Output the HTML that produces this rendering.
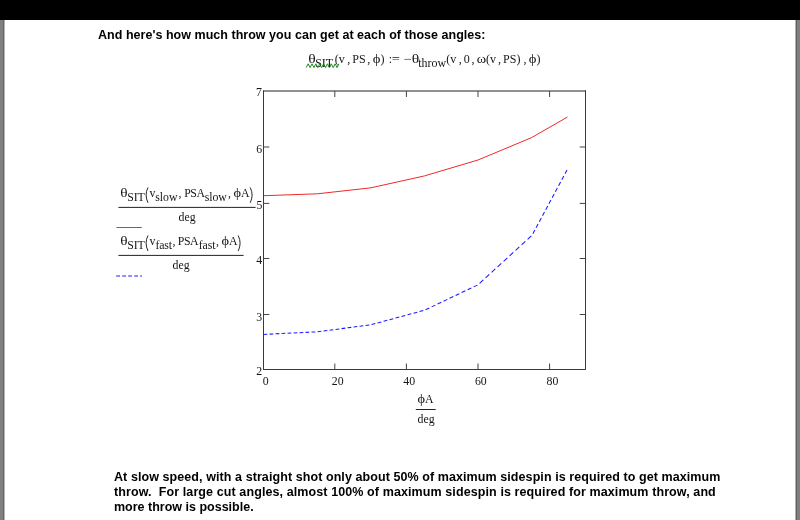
<!DOCTYPE html>
<html><head><meta charset="utf-8">
<style>
html,body{margin:0;padding:0;}
body{width:800px;height:520px;overflow:hidden;background:#fff;position:relative;font-family:"Liberation Sans",sans-serif;}
.abs{position:absolute;white-space:nowrap;}
.b{font-weight:bold;color:#000;font-size:12.5px;line-height:15px;}
#top{left:0;top:0;width:800px;height:20px;background:#000;}
#lg{left:0;top:20px;width:5px;height:500px;background:linear-gradient(to right,#808080 0,#808080 3px,#666 3px,#666 4px,#b4b4b4 4px,#b4b4b4 5px);}
#rg{left:795px;top:20px;width:5px;height:500px;background:linear-gradient(to right,#b4b4b4 0,#b4b4b4 1px,#606060 1px,#606060 2px,#808080 2px,#808080 5px);}
svg{position:absolute;left:0;top:0;will-change:transform;}
.b{will-change:transform;}
svg text{font-family:"Liberation Serif",serif;fill:#161616;}
.e{font-size:12.0px;}
.l{font-size:11.8px;}
.t{font-size:11.8px;}
</style></head><body>
<div class="abs" id="top"></div>
<div class="abs" id="lg"></div>
<div class="abs" id="rg"></div>
<div class="abs b" id="title" style="left:98px;top:27.5px;letter-spacing:0.03px;">And here's how much throw you can get at each of those angles:</div>
<div class="abs b" id="p1" style="left:113.5px;top:469.5px;letter-spacing:0.08px;">At slow speed, with a straight shot only about 50% of maximum sidespin is required to get maximum</div>
<div class="abs b" id="p2" style="left:113.5px;top:484.5px;letter-spacing:0.1px;">throw.&nbsp; For large cut angles, almost 100% of maximum sidespin is required for maximum throw, and</div>
<div class="abs b" id="p3" style="left:113.5px;top:499.5px;">more throw is possible.</div>
<svg width="800" height="520" viewBox="0 0 800 520">
<g class="e">
<text transform="translate(308.27 62.7) scale(1.3 1)">θ</text>
<text x="315.20" y="67.3">SIT</text>
<text x="334.87" y="62.7">(v</text>
<text x="347.34" y="62.7">,</text>
<text x="352.25" y="62.7">PS</text>
<text x="367.14" y="62.7">,</text>
<text transform="translate(372.71 62.7) scale(1.22 1)">ϕ</text>
<text x="380.41" y="62.7">)</text>
<text x="388.65" y="62.7">:</text>
<text transform="translate(391.68 62.7) scale(1.2 1)">=</text>
<text transform="translate(403.68 62.7) scale(1.2 1)">−</text>
<text transform="translate(411.80 62.7) scale(1.3 1)">θ</text>
<text x="418.18" y="67.3">throw</text>
<text x="446.37" y="62.7">(v</text>
<text x="458.84" y="62.7">,</text>
<text x="463.74" y="62.7">0</text>
<text x="471.44" y="62.7">,</text>
<text transform="translate(476.64 62.7) scale(1.19 1)">ω</text>
<text x="486.04" y="62.7">(v</text>
<text x="498.04" y="62.7">,</text>
<text x="503.05" y="62.7">PS)</text>
<text x="523.44" y="62.7">,</text>
<text transform="translate(528.81 62.7) scale(1.22 1)">ϕ</text>
<text x="536.51" y="62.7">)</text>
</g>
<path d="M306.2 67.6 L308.13 63.8 L310.06 67.6 L311.99 63.8 L313.92 67.6 L315.85 63.8 L317.78 67.6 L319.71 63.8 L321.64 67.6 L323.57 63.8 L325.50 67.6 L327.43 63.8 L329.36 67.6 L331.29 63.8 L333.22 67.6 L335.15 63.8 L337.08 67.6 L339.01 63.8" fill="none" stroke="#0b7d0b" stroke-width="0.9"/>
<g stroke="#333" stroke-width="1" fill="none">
<path d="M263.5 90.5V370 M585.5 90.5V370 M263 369.5H586" stroke="#3a3a3a"/>
<path d="M263 91H586" stroke="#222"/>
<path d="M334.8 91v6 M406.4 91v6 M478 91v6 M549.6 91v6" stroke="#444"/>
<path d="M334.8 369.5v-6 M406.4 369.5v-6 M478 369.5v-6 M549.6 369.5v-6" stroke="#444"/>
<path d="M263.5 147h5.8 M263.5 203.4h5.8 M263.5 258.5h5.8 M263.5 314.5h5.8" stroke="#444"/>
<path d="M585.5 147h-5.8 M585.5 203.4h-5.8 M585.5 258.5h-5.8 M585.5 314.5h-5.8" stroke="#444"/>
</g>
<polyline fill="none" stroke="#f02828" stroke-width="1" points="264,195.7 317.5,193.8 371,187.8 424.5,175.9 478,160 531.6,137.6 567.5,117"/>
<g fill="none" stroke="#1a1aff" stroke-width="1.05"><line x1="263.6" y1="334.4" x2="317.3" y2="331.8" stroke-dasharray="3.70 2.30" stroke-dashoffset="0.00"/>
<line x1="317.3" y1="331.8" x2="370.9" y2="324.8" stroke-dasharray="3.73 2.32" stroke-dashoffset="5.75"/>
<line x1="370.9" y1="324.8" x2="424.6" y2="310.2" stroke-dasharray="3.83 2.38" stroke-dashoffset="5.49"/>
<line x1="424.6" y1="310.2" x2="478" y2="284.8" stroke-dasharray="4.10 2.55" stroke-dashoffset="5.54"/>
<line x1="478" y1="284.8" x2="532" y2="235.3" stroke-dasharray="5.02 3.12" stroke-dashoffset="5.97"/>
<line x1="532" y1="235.3" x2="567.7" y2="168.7" stroke-dasharray="4.20 2.61" stroke-dashoffset="4.99"/></g>
<g class="t">
<text x="256.1" y="96.4">7</text>
<text x="256.3" y="152.9">6</text>
<text x="256.4" y="209.3">5</text>
<text x="256.2" y="263.9">4</text>
<text x="256.3" y="320.5">3</text>
<text x="256.2" y="375.1">2</text>
<text x="262.8" y="385.2">0</text>
<text x="331.8" y="385.2">20</text>
<text x="403.3" y="385.2">40</text>
<text x="474.9" y="385.2">60</text>
<text x="546.5" y="385.2">80</text>
</g>
<g class="l">
<text transform="translate(417.51 403.3) scale(1.22 1)">ϕ</text>
<text x="425.09" y="403.3">A</text>
<text x="417.6" y="422.6">deg</text>
</g>
<path d="M415.8 409.5H435.7" stroke="#222" stroke-width="1"/>
<g class="l">
<text transform="translate(120.28 197) scale(1.3 1)">θ</text>
<text x="127.21" y="201.2" letter-spacing="-0.1">SIT</text>
<text x="149.40" y="197">v</text>
<text x="155.32" y="201.2" letter-spacing="-0.05">slow</text>
<text x="178.55" y="197">,</text>
<text x="184.16" y="197" letter-spacing="-0.4">PSA</text>
<text x="204.72" y="201.2" letter-spacing="-0.05">slow</text>
<text x="227.95" y="197">,</text>
<text transform="translate(233.51 197) scale(1.22 1)">ϕ</text>
<text x="241.09" y="197">A</text>
<text x="178.6" y="220.6">deg</text>
</g>
<path d="M118.4 207.4H255.6" stroke="#222" stroke-width="1"/>
<path d="M148 187.5 Q144.2 195 148 202.8 M250.2 187.5 Q254 195 250.2 202.8" stroke="#111" stroke-width="0.9" fill="none"/>
<path d="M116.5 227.5H141.8" stroke="#ee3030" stroke-width="1"/>
<g class="l">
<text transform="translate(120.28 245) scale(1.3 1)">θ</text>
<text x="127.21" y="249.2" letter-spacing="-0.1">SIT</text>
<text x="149.40" y="245">v</text>
<text x="155.44" y="249.2" letter-spacing="-0.15">fast</text>
<text x="172.55" y="245">,</text>
<text x="177.76" y="245" letter-spacing="-0.4">PSA</text>
<text x="198.84" y="249.2" letter-spacing="-0.15">fast</text>
<text x="215.95" y="245">,</text>
<text transform="translate(221.51 245) scale(1.22 1)">ϕ</text>
<text x="229.09" y="245">A</text>
<text x="172.6" y="268.9">deg</text>
</g>
<path d="M118.4 255.4H243.6" stroke="#222" stroke-width="1"/>
<path d="M148 235.5 Q144.2 243 148 251 M238.2 235.5 Q242 243 238.2 251" stroke="#111" stroke-width="0.9" fill="none"/>
<path d="M116.2 276H142" stroke="#1a1aff" stroke-width="1.1" stroke-dasharray="3.8 2.2"/>
</svg>
</body></html>
